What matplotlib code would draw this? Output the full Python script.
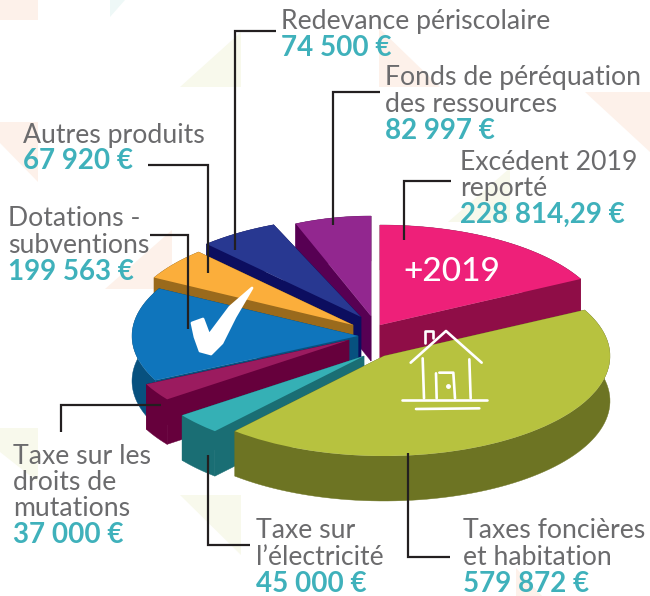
import numpy as np
import matplotlib
matplotlib.use("Agg")
import matplotlib.pyplot as plt
from matplotlib.patches import Polygon, Wedge
from matplotlib.transforms import Affine2D

# clockwise from the top
names = [
    "Excédent 2019\nreporté",
    "Taxes foncières\net habitation",
    "Taxe sur\nl’électricité",
    "Taxe sur les\ndroits de\nmutations",
    "Dotations -\nsubventions",
    "Autres produits",
    "Redevance périscolaire",
    "Fonds de péréquation\ndes ressources",
]
amounts = [228814.29, 579872, 45000, 37000, 199563, 67920, 74500, 82997]
amount_labels = [
    "228 814,29 €", "579 872 €", "45 000 €", "37 000 €",
    "199 563 €", "67 920 €", "74 500 €", "82 997 €",
]
top_colors = ["#ee2079", "#b7c23f", "#35b0b5", "#9b1b5f", "#0f75bc", "#fbae3b", "#283891", "#92278f"]
side_colors = ["#8f0d47", "#6d7423", "#1a6e74", "#66003c", "#07517f", "#9a6a1c", "#0c0e5f", "#570053"]

# layout, in pixels of the 650x596 picture
tips = [(380, 325), (384, 356), (364, 356), (349, 340), (358, 336), (353, 325), (361, 317), (371, 316)]
radii_x = [226, 226, 226, 226, 226, 226, 226, 195]
text_pos = [(460, 162), (463, 531), (256, 531), (13, 456), (8, 219), (23, 135), (281, 22), (385, 78)]
leaders = [
    [(451, 181), (404, 181), (404, 240)],
    [(450, 557), (408, 557), (408, 453)],
    [(250, 545), (208, 545), (208, 455)],
    [(161, 405), (61, 405), (61, 432)],
    [(150, 235), (188, 235), (188, 329)],
    [(148, 165), (208, 165), (208, 273)],
    [(276, 31), (235, 31), (235, 250)],
    [(380, 92), (333, 92), (333, 225)],
]
draw_order = [7, 0, 6, 5, 4, 3, 2, 1]
RY, DEPTH = 100, 45
LINE_STEP = 26.3

GREY = "#6b6b6d"
TEAL = "#3fb1bb"
plt.rcParams["font.family"] = ["Lato", "DejaVu Sans"]

fig = plt.figure(figsize=(6.5, 5.96), dpi=100)
ax = fig.add_axes([0, 0, 1, 1])
ax.set_xlim(0, 650)
ax.set_ylim(596, 0)
ax.axis("off")

# pale triangles of the page background
pink_bg = "#fdf1ea"
green_bg = "#f8f9ec"
for pts, col in [
    ([(0, 0), (38, 0), (38, 20), (0, 20)], pink_bg),
    ([(110, 0), (125, 0), (110, 17)], "#eef8f7"),
    ([(241, 32), (180, 87), (241, 87)], green_bg),
    ([(379, 28), (440, 87), (379, 87)], pink_bg),
    ([(585, 92), (650, 92), (650, 152)], pink_bg),
    ([(0, 122), (38, 122), (38, 182), (0, 143)], pink_bg),
    ([(172, 230), (105, 289), (172, 289)], pink_bg),
    ([(510, 168), (448, 222), (510, 222)], green_bg),
    ([(180, 495), (241, 495), (241, 555)], green_bg),
    ([(0, 428), (38, 428), (38, 482), (0, 452)], green_bg),
    ([(516, 568), (542, 596), (516, 596)], pink_bg),
]:
    ax.add_patch(Polygon(pts, closed=True, fc=col, ec="none", zorder=0))

# angles of the slices
edges = 90 - np.cumsum([0] + amounts) / sum(amounts) * 360


def point(tip, rx, deg):
    return tip[0] + rx * np.cos(np.radians(deg)), tip[1] - RY * np.sin(np.radians(deg))


z = 1
for i in draw_order:
    tip = tips[i]
    rx = radii_x[i]
    t_start, t_end = edges[i], edges[i + 1]
    side = side_colors[i]
    for deg in (t_start, t_end):
        x, y = point(tip, rx, deg)
        quad = [tip, (x, y), (x, y + DEPTH), (tip[0], tip[1] + DEPTH)]
        ax.add_patch(Polygon(quad, closed=True, fc=side, ec=side, lw=0.3, zorder=z))
    arc = np.linspace(t_start, t_end, 80)
    xs, ys = point(tip, rx, arc)
    rim = np.r_[np.c_[xs, ys], np.c_[xs, ys + DEPTH][::-1]]
    ax.add_patch(Polygon(rim, closed=True, fc=side, ec=side, lw=0.3, zorder=z))
    tr = Affine2D().scale(rx, -RY).translate(*tip) + ax.transData
    ax.add_patch(Wedge((0, 0), 1, t_end, t_start, fc=top_colors[i], ec="none", transform=tr, zorder=z + 0.5))
    z += 1

# leader lines and labels
for pts in leaders:
    xs, ys = zip(*pts)
    ax.plot(xs, ys, color="#231f20", lw=1.6, solid_capstyle="butt", solid_joinstyle="miter", zorder=20)

for name, amount, (x, y) in zip(names, amount_labels, text_pos):
    lines = name.split("\n")
    for k, line in enumerate(lines):
        ax.text(x, y + k * LINE_STEP, line, fontsize=19.2, fontweight="normal", color=GREY, va="center", zorder=21)
    ax.text(x, y + len(lines) * LINE_STEP, amount, fontsize=20, fontweight="bold", color=TEAL, va="center", zorder=21)

ax.text(403, 272, "+2019", fontsize=24, fontweight="medium", color="white", va="center", zorder=21)

# check mark
check = [(192, 323), (203, 319), (209, 335), (230, 307), (252, 288), (235, 317), (222, 343), (211, 354), (200, 351), (195, 337)]
ax.add_patch(Polygon(check, closed=True, fc="white", ec="white", lw=2, joinstyle="round", zorder=21))

# house, traced in the zoomed crop at 3x
house = [
    [(122, 488), (228, 393), (335, 488)],
    [(165, 430), (165, 392), (190, 392), (190, 415)],
    [(158, 475), (162, 595)],
    [(298, 478), (302, 595)],
    [(198, 520), (200, 595)],
    [(208, 518), (250, 518), (255, 595)],
    [(97, 600), (350, 600)],
    [(138, 627), (328, 625)],
]
for seg in house:
    xs = [370 + p[0] / 3 for p in seg]
    ys = [200 + p[1] / 3 for p in seg]
    ax.plot(xs, ys, color="white", lw=1.9, solid_capstyle="round", zorder=21)
ax.plot(370 + 234 / 3, 200 + 558 / 3, "o", color="white", ms=2.5, zorder=21)

fig.savefig("out.png", dpi=100)
